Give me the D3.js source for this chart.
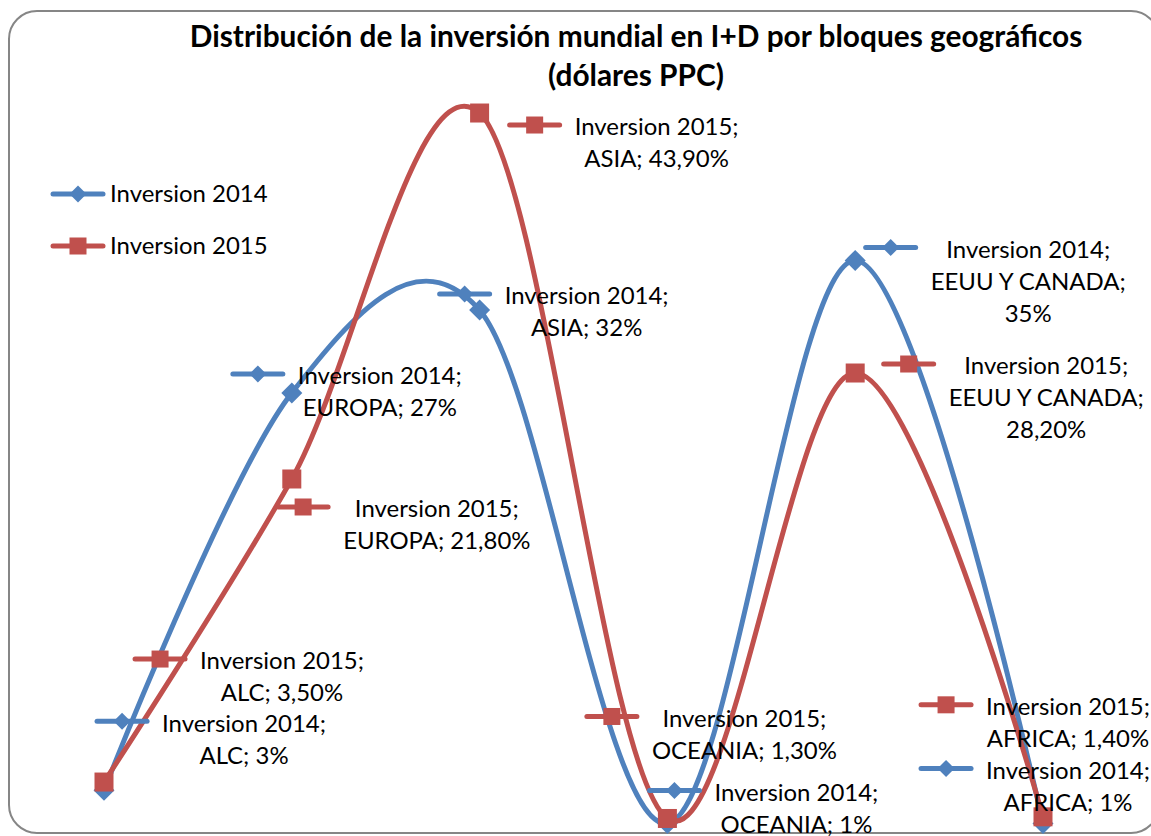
<!DOCTYPE html>
<html>
<head>
<meta charset="utf-8">
<script src="https://cdn.jsdelivr.net/npm/d3@7"></script>
<style>
  body { margin: 0; background: #fff; }
  svg { display: block; }
</style>
</head>
<body>
<svg class="chart" width="1151" height="836"></svg>
<script>
// Distribucion de la inversion mundial en I+D

var categories = ["ALC", "EUROPA", "ASIA", "OCEANIA", "EEUU Y CANADA", "AFRICA"];
var inversion2014 = [3, 27, 32, 1, 35, 1];
var inversion2015 = [3.5, 21.8, 43.9, 1.3, 28.2, 1.4];
var seriesNames = ["Inversion 2014", "Inversion 2015"];

// where each data label sits, relative to its point (text centre, first line)
var labelOffsets2014 = [[140, -67], [88, -17], [107, -14], [129, -31], [173, -11], [25, -53]];
var labelOffsets2015 = [[178, -121], [145, 30], [177, 14], [77, -100], [191, -7], [25, -110]];

var colors = ["#4F81BD", "#C0504D"];
var fontFamily = "Lato, 'Open Sans', sans-serif";

var svg = d3.select(".chart");

// chart frame
svg.append("rect")
    .attr("x", 9)
    .attr("y", 11)
    .attr("width", 1150)
    .attr("height", 822)
    .attr("rx", 28)
    .attr("fill", "#fff")
    .attr("stroke", "#868686")
    .attr("stroke-width", 2);

// fit a font size so a sample string gets a given width
function fitSize(sample, weight, targetWidth) {
    var t = svg.append("text")
        .attr("font-family", fontFamily)
        .attr("font-weight", weight)
        .attr("font-size", 100)
        .text(sample);
    var w = t.node().getComputedTextLength();
    t.remove();
    return 100 * targetWidth / w;
}

var labelSize = fitSize("Inversion 2014;", "normal", 164);
var titleSize = fitSize("Distribución de la inversión mundial en I+D por bloques geográficos", "bold", 893);

var title = svg.append("text")
    .attr("text-anchor", "middle")
    .attr("font-family", fontFamily)
    .attr("font-weight", "bold")
    .attr("font-size", titleSize)
    .attr("fill", "#000");
title.append("tspan")
    .attr("x", 636).attr("y", 37).attr("dy", "0.35em")
    .text("Distribución de la inversión mundial en I+D por bloques geográficos");
title.append("tspan")
    .attr("x", 636).attr("y", 76).attr("dy", "0.35em")
    .text("(dólares PPC)");

var x = d3.scalePoint()
    .domain(categories)
    .range([104, 1043]);

var y = d3.scaleLinear()
    .domain([0, 50])
    .range([840, 12]);

var series = [
    { name: seriesNames[0], values: inversion2014, offsets: labelOffsets2014, color: colors[0], marker: "diamond", fmt: d3.format(".0f") },
    { name: seriesNames[1], values: inversion2015, offsets: labelOffsets2015, color: colors[1], marker: "square", fmt: d3.format(".2f") }
];

var line = d3.line()
    .x(function (d, i) { return x(categories[i]); })
    .y(function (d) { return y(d); })
    .curve(d3.curveCardinal.tension(0));

function drawMarker(g, type, color, cx, cy, big) {
    if (type === "diamond") {
        var s = big ? 10.5 : 8.5;
        g.append("path")
            .attr("d", "M" + cx + "," + (cy - s) + "L" + (cx + s) + "," + cy + "L" + cx + "," + (cy + s) + "L" + (cx - s) + "," + cy + "Z")
            .attr("fill", color);
    } else {
        var h = big ? 9.5 : 8.5;
        g.append("rect")
            .attr("x", cx - h).attr("y", cy - h)
            .attr("width", 2 * h).attr("height", 2 * h)
            .attr("fill", color);
    }
}

function drawKey(g, s, cx, cy) {
    g.append("line")
        .attr("x1", cx - 25).attr("x2", cx + 25)
        .attr("y1", cy).attr("y2", cy)
        .attr("stroke", s.color)
        .attr("stroke-width", 5)
        .attr("stroke-linecap", "round");
    drawMarker(g, s.marker, s.color, cx, cy, false);
}

// lines and markers
series.forEach(function (s) {
    svg.append("path")
        .attr("d", line(s.values))
        .attr("fill", "none")
        .attr("stroke", s.color)
        .attr("stroke-width", 5)
        .attr("stroke-linecap", "round");
    var mg = svg.append("g");
    s.values.forEach(function (v, i) {
        drawMarker(mg, s.marker, s.color, x(categories[i]), y(v), true);
    });
});

// data labels with legend key
series.forEach(function (s) {
    s.values.forEach(function (v, i) {
        var cat = categories[i];
        var valText = s.fmt(v).replace(".", ",") + "%";
        var lines = cat.length > 10
            ? [s.name + ";", cat + ";", valText]
            : [s.name + ";", cat + "; " + valText];
        var g = svg.append("g")
            .attr("transform", "translate(" + (x(cat) + s.offsets[i][0]) + "," + (y(v) + s.offsets[i][1]) + ")");
        var t = g.append("text")
            .attr("text-anchor", "middle")
            .attr("font-family", fontFamily)
            .attr("font-size", labelSize)
            .attr("fill", "#000");
        lines.forEach(function (l, k) {
            t.append("tspan")
                .attr("x", 0)
                .attr("y", k * 32)
                .attr("dy", "0.35em")
                .text(l);
        });
        var maxW = 0;
        t.selectAll("tspan").each(function () {
            maxW = Math.max(maxW, this.getComputedTextLength());
        });
        drawKey(g, s, -maxW / 2 - 40, -2);
    });
});

// legend
series.forEach(function (s, i) {
    var ly = 194 + i * 52;
    var g = svg.append("g");
    drawKey(g, s, 78, ly);
    g.append("text")
        .attr("x", 110)
        .attr("y", ly)
        .attr("dy", "0.35em")
        .attr("font-family", fontFamily)
        .attr("font-size", labelSize)
        .attr("fill", "#000")
        .text(s.name);
});
</script>
</body>
</html>
